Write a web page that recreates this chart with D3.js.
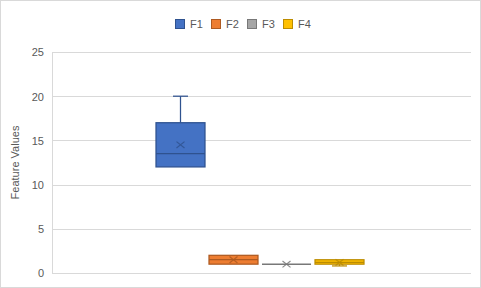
<!DOCTYPE html>
<html><head><meta charset="utf-8">
<script src="https://cdn.jsdelivr.net/npm/d3@7"></script>
<style>body{margin:0;background:#fff}svg{display:block}</style>
</head><body><svg id="c" width="481" height="288"></svg>
<script>
const categories = ["F1","F2","F3","F4"];
const minVals    = [12, 1, 1, 0.8];
const q1Vals     = [12, 1, 1, 1];
const medianVals = [13.5, 1.5, 1, 1.2];
const q3Vals     = [17, 2, 1, 1.5];
const maxVals    = [20, 2, 1, 1.5];
const meanVals   = [14.5, 1.5, 1, 1.2];
const yTicks     = [0,5,10,15,20,25];
const fills   = ["#4472C4","#ED7D31","#A5A5A5","#FFC000"];
const strokes = ["#2F528F","#AE5A21","#787878","#BC8C00"];

const svg = d3.select("#c");
const W=481,H=288;
const font="'Liberation Sans', Arial, sans-serif";
svg.append("rect").attr("x",0.5).attr("y",0.5).attr("width",W-1).attr("height",H-1).attr("fill","#fff").attr("stroke","#D9D9D9");

const L=52,R=471,T=52,B=273;
const y=d3.scaleLinear().domain([0,25]).range([B,T]);
const x=d3.scaleBand().domain(categories).range([156,364]).paddingInner(0.0755);

// gridlines
svg.append("g").selectAll("line").data(yTicks).join("line")
 .attr("x1",L).attr("x2",R).attr("y1",d=>Math.round(y(d))+0.5).attr("y2",d=>Math.round(y(d))+0.5)
 .attr("stroke","#D9D9D9").attr("stroke-width",1);
svg.append("line").attr("x1",L+0.5).attr("x2",L+0.5).attr("y1",T).attr("y2",B).attr("stroke","#D9D9D9");

// y axis labels
const yAxis=d3.axisLeft(y).tickValues(yTicks).tickSize(0).tickPadding(0).tickFormat(d3.format("d"));
const ga=svg.append("g").attr("transform",`translate(${L-8},0)`).call(yAxis);
ga.select(".domain").remove();
ga.selectAll("text").attr("font-family",font).attr("font-size",11).attr("fill","#595959").attr("dy","0.35em");

svg.append("text").attr("transform",`translate(19,${(T+B)/2}) rotate(-90)`).attr("text-anchor","middle")
 .attr("font-family",font).attr("font-size",11).attr("fill","#595959").text("Feature Values");

// boxes
categories.forEach((c,i)=>{
  const g=svg.append("g");
  const x0=x(c), bw=x.bandwidth(), cx=x0+bw/2;
  const capW=15;
  // whiskers
  if(maxVals[i]>q3Vals[i]){
    g.append("line").attr("x1",cx).attr("x2",cx).attr("y1",y(maxVals[i])).attr("y2",y(q3Vals[i])).attr("stroke",strokes[i]).attr("stroke-width",1.25);
    g.append("line").attr("x1",cx-capW/2).attr("x2",cx+capW/2).attr("y1",y(maxVals[i])).attr("y2",y(maxVals[i])).attr("stroke",strokes[i]).attr("stroke-width",1.25);
  }
  if(minVals[i]<q1Vals[i]){
    g.append("line").attr("x1",cx).attr("x2",cx).attr("y1",y(minVals[i])).attr("y2",y(q1Vals[i])).attr("stroke",strokes[i]).attr("stroke-width",1.25);
    g.append("line").attr("x1",cx-capW/2).attr("x2",cx+capW/2).attr("y1",y(minVals[i])).attr("y2",y(minVals[i])).attr("stroke",strokes[i]).attr("stroke-width",1.25);
  }
  const top=y(q3Vals[i]), bot=y(q1Vals[i]);
  if(bot-top>0.5){
    g.append("rect").attr("x",x0).attr("y",top).attr("width",bw).attr("height",bot-top)
     .attr("fill",fills[i]).attr("stroke",strokes[i]).attr("stroke-width",1.25);
    g.append("line").attr("x1",x0).attr("x2",x0+bw).attr("y1",y(medianVals[i])).attr("y2",y(medianVals[i])).attr("stroke",strokes[i]).attr("stroke-width",1.25);
  } else {
    g.append("line").attr("x1",x0).attr("x2",x0+bw).attr("y1",top).attr("y2",top).attr("stroke",strokes[i]).attr("stroke-width",1.5);
  }
  // mean marker X
  const my=y(meanVals[i]), s=4;
  g.append("path").attr("d",`M${cx-s},${my-s*0.8}L${cx+s},${my+s*0.8}M${cx-s},${my+s*0.8}L${cx+s},${my-s*0.8}`)
   .attr("stroke",strokes[i]).attr("stroke-width",1.2).attr("fill","none").attr("opacity",0.85);
});

// legend
const legX=[175,211,247,283];
const lg=svg.append("g");
categories.forEach((c,i)=>{
  lg.append("rect").attr("x",legX[i]+0.5).attr("y",19.5).attr("width",9).attr("height",9)
    .attr("fill",fills[i]).attr("stroke",strokes[i]).attr("stroke-width",1);
  lg.append("text").attr("x",legX[i]+15).attr("y",24).attr("dy","0.35em")
    .attr("font-family",font).attr("font-size",11).attr("fill","#595959").text(c);
});
</script></body></html>
